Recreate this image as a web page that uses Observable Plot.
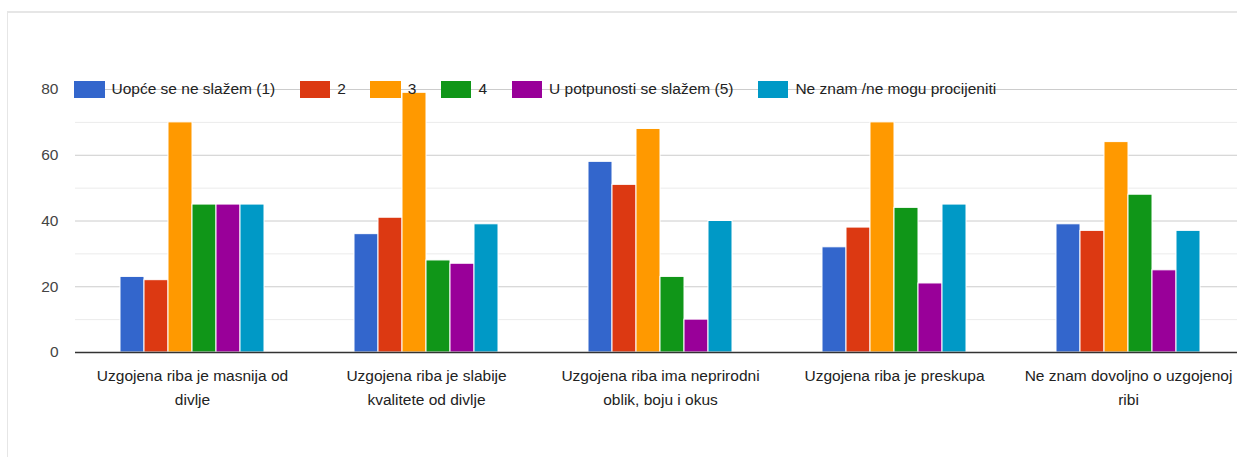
<!DOCTYPE html>
<html>
<head>
<meta charset="utf-8">
<script src="https://cdn.jsdelivr.net/npm/d3@7"></script>
<script src="https://cdn.jsdelivr.net/npm/@observablehq/plot@0.6"></script>
<style>
  html, body { margin: 0; padding: 0; background: #fff; overflow: hidden; width: 1237px; height: 457px; }
  #wrap { position: relative; width: 1237px; height: 457px; overflow: hidden; font-family: "Liberation Sans", Arial, sans-serif; }
  #frame { position: absolute; left: 7px; top: 11px; right: -10px; bottom: -10px; border-top: 2px solid #e6e6e6; border-left: 1.5px solid #e6e6e6; pointer-events: none; }
  #legend { position: absolute; left: 74px; top: 89px; transform: translateY(-50%); display: flex; align-items: center; font-size: 15.5px; color: #222; white-space: nowrap; }
  #legend .item { display: flex; align-items: center; margin-right: 24.5px; }
  #legend .sw { width: 30.5px; height: 17px; margin-right: 7px; }
</style>
</head>
<body>
<div id="wrap"><div id="chart"></div><div id="legend"></div><div id="frame"></div></div>
<script>
const categories = [
  "Uzgojena riba je masnija od divlje",
  "Uzgojena riba je slabije kvalitete od divlje",
  "Uzgojena riba ima neprirodni oblik, boju i okus",
  "Uzgojena riba je preskupa",
  "Ne znam dovoljno o uzgojenoj ribi"
];
const categoryLabels = [
  "Uzgojena riba je masnija od\ndivlje",
  "Uzgojena riba je slabije\nkvalitete od divlje",
  "Uzgojena riba ima neprirodni\noblik, boju i okus",
  "Uzgojena riba je preskupa",
  "Ne znam dovoljno o uzgojenoj\nribi"
];
const series = ["Uopće se ne slažem (1)", "2", "3", "4", "U potpunosti se slažem (5)", "Ne znam /ne mogu procijeniti"];
const colors = ["#3366cc", "#dc3912", "#ff9900", "#109618", "#990099", "#0099c6"];
const s1 = [23, 36, 58, 32, 39];
const s2 = [22, 41, 51, 38, 37];
const s3 = [70, 79, 68, 70, 64];
const s4 = [45, 28, 23, 44, 48];
const s5 = [45, 27, 10, 21, 25];
const s6 = [45, 39, 40, 45, 37];
const yTicks = [0, 20, 40, 60, 80];
const majorGrid = [20, 40, 60, 80];
const minorGrid = [10, 30, 50, 70];

const seriesValues = [s1, s2, s3, s4, s5, s6];
const data = [];
categories.forEach((c, i) => {
  series.forEach((s, j) => data.push({category: c, series: s, value: seriesValues[j][i]}));
});
const labelOf = new Map(categories.map((c, i) => [c, categoryLabels[i]]));

const plot = Plot.plot({
  width: 1246,
  height: 457,
  marginLeft: 75,
  marginRight: 1,
  marginTop: 89,
  marginBottom: 105,
  style: {maxWidth: "none", background: "transparent", fontFamily: "\"Liberation Sans\", Arial, sans-serif", fontSize: "15.5px", overflow: "visible"},
  fx: {domain: categories, padding: 0},
  x: {domain: series, paddingInner: 0, paddingOuter: 1.86, axis: null},
  y: {domain: [0, 80], nice: false},
  color: {domain: series, range: colors},
  marks: [
    Plot.ruleY(minorGrid, {stroke: "#ebebeb", strokeWidth: 1}),
    Plot.ruleY(majorGrid, {stroke: "#cccccc", strokeWidth: 1}),
    Plot.barY(data, {fx: "category", x: "series", y: "value", fill: "series", stroke: "#fff", strokeWidth: 1}),
    Plot.ruleY([0], {stroke: "#333", strokeWidth: 1.6}),
    Plot.axisY(yTicks, {tickSize: 0, tickPadding: 17, label: null, fill: "#444", fontSize: 15.5}),
    Plot.axisFx({anchor: "bottom", tickSize: 0, tickPadding: 11, label: null, lineHeight: 1.55, fill: "#222", fontSize: 15.5, tickFormat: d => labelOf.get(d)})
  ]
});
document.getElementById("chart").appendChild(plot);

const legend = document.getElementById("legend");
series.forEach((s, j) => {
  const it = document.createElement("div");
  it.className = "item";
  const sw = document.createElement("div");
  sw.className = "sw";
  sw.style.background = colors[j];
  const t = document.createElement("span");
  t.textContent = s;
  it.appendChild(sw);
  it.appendChild(t);
  legend.appendChild(it);
});
</script>
</body>
</html>
